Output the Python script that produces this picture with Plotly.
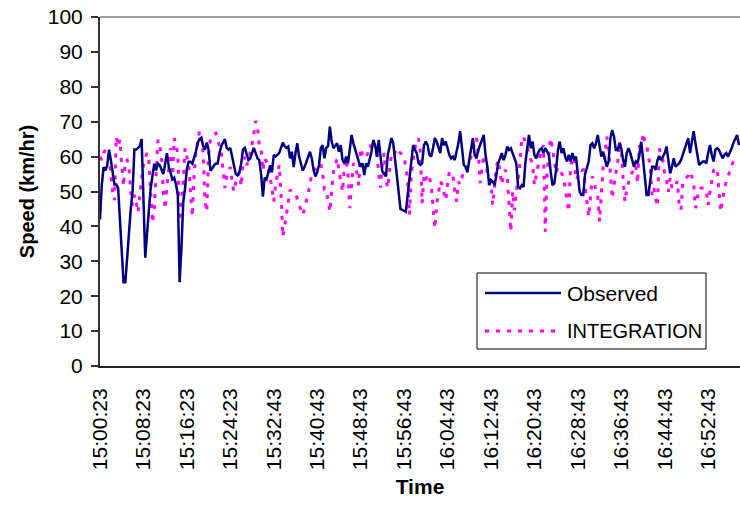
import plotly.graph_objects as go

tick_labels = ["15:00:23", "15:08:23", "15:16:23", "15:24:23", "15:32:43", "15:40:43",
               "15:48:43", "15:56:43", "16:04:43", "16:12:43", "16:20:43", "16:28:43",
               "16:36:43", "16:44:43", "16:52:43"]
tick_step = 24  # samples between labelled times (20 s sampling)

observed = [
    42, 52, 57, 56, 57.5, 62, 59, 56, 52, 52,
    51, 42, 32, 24, 24, 31, 40, 45, 50, 62,
    62, 62.5, 63, 65, 50, 31, 38, 46, 51, 54.5,
    58, 56, 58, 57.5, 56, 55, 58, 61, 57, 55.5,
    53.5, 54, 52, 49, 24, 34, 47, 51, 56.5, 58.5,
    58.5, 58, 59.5, 61.5, 64, 65, 65.4, 63, 62, 64,
    62, 56, 56.5, 57.5, 58, 58, 61, 63, 64, 65,
    62.5, 62, 62.5, 60, 57, 55, 54.6, 55.5, 58, 62,
    62.5, 60.5, 59, 59.5, 61, 62.5, 61, 59.5, 59,
    55, 48.5, 54, 53.5, 56, 57.5, 55.5, 60.5, 60, 60.5,
    61, 62.5, 64, 63, 62.5, 62.9, 59.5, 61.4, 57, 61,
    63.8, 60, 58, 56, 57, 58.5, 60, 61.4, 59.5, 56.2,
    54.3, 55.5, 57.6, 62.4, 63.3, 59.5, 62.5, 63, 68.6, 64.3,
    62.4, 63.3, 63.8, 61.4, 63.3, 59, 58.1, 60, 58.1, 62,
    66.2, 63.8, 61.9, 60, 58.5, 57.1, 58.1, 54.7, 58.1, 57.1,
    59, 61.4, 64.8, 63.3, 60, 64.8, 60, 55.7, 55, 54.3,
    60.5, 63, 65.3, 63.8, 58.1, 54.7, 49.9, 45, 44.7, 44.5,
    44.2, 49, 53.3, 59, 63.3, 62, 61, 58.1,
    57.6, 58.1, 63.3, 64.3, 63.3, 60.5, 60, 62.5, 65.3, 64.3,
    62.4, 61, 65.3, 63.3, 64.3, 62.4, 60.5, 59.5, 60, 59,
    61, 63.8, 67.3, 61.4, 57.6, 57.1, 55.5, 59, 62, 65.3,
    60.5, 59.5, 61.9, 63.3, 64.3, 66.2, 60.5, 57.1, 51.8, 53.3,
    52.8, 51.8, 54.7, 58.1, 59.5, 61, 59, 60.5, 62.9, 61.9,
    62.4, 61, 60, 58.1, 51.3, 50.9, 51.8, 51.3, 58.1, 62.9,
    66.2, 62.4, 64.3, 60.5, 59.5, 61, 62, 62.4, 61, 62.4,
    61.5, 60.5, 55.7, 51.8, 52.3, 56.2, 61.9, 64.3, 61, 62.4,
    60, 58.6, 60.5, 58.6, 61, 59, 60, 55, 49.9,
    49, 49, 55, 56.7, 58.6, 63.3, 63.8, 62.4, 63.8, 66.2,
    62.4, 60, 61.4, 59, 57.1, 58.6, 65.3, 67.6, 65.7, 61.9,
    61.9, 63.8, 62.4, 59, 57.1, 61, 62.4, 61, 59, 57.1,
    58.6, 58.1, 60.5, 64.3, 59.5, 54.7, 49, 49, 53.8, 57.1,
    57.1, 56.2, 59, 60, 59, 60, 61, 62.9, 58.6, 55.2,
    57.1, 59.5, 57.1, 57.5, 58.1, 59, 60.5, 62.4, 63.5, 65.3,
    61, 63.8, 67.3, 63.8, 60, 57.6, 58.1, 58.6, 58.6, 58.1,
    61, 63.3, 60.5, 58.6, 61.9, 62.4, 61.9, 60.5, 59.5, 60.5,
    61, 60, 61, 62.4, 64, 65.3, 66.2, 63.3,
]

integration = [
    60, 59, 61, 62, 61.6, 60, 55, 50, 47.5, 65.7,
    63, 64.8, 58, 51.5, 59, 59, 57, 50, 46, 49,
    47, 44, 49, 54.3, 57.6, 59.5, 61, 59, 50, 41,
    45, 54, 64.8, 63.3, 60, 50, 45, 52, 56, 62.4,
    53, 65.3, 63, 61, 41.5, 44.5, 53, 62.4, 60, 57.5,
    50, 42.8, 55, 61, 64.3, 67.3, 65, 61, 47, 44.2,
    61, 64.8, 66.2, 66.5, 66.7, 65, 63.3, 61, 56, 51,
    54.3, 56, 57, 52.8, 50, 52.5, 54, 55.5, 51.5, 58.1,
    60, 57.5, 59, 61, 63.3, 66.7, 70.2, 68.8, 63,
    62.4, 56, 59.5, 58.5, 57.6, 54.3, 50, 47.1, 51.8, 55,
    57.6, 50, 37.1, 40, 43.7, 47.1, 50.5, 50, 49.5, 49.4,
    48, 46.6, 44.5, 43.3, 45, 47, 49, 51.8, 55.5, 56,
    56.7, 57, 57.5, 58, 55, 50.5, 50.5, 47, 44.2, 50,
    55.5, 57.5, 59.5, 56, 53.3, 49.9, 57.1, 59.5, 55, 45.2,
    51.8, 58.1, 57, 55.2, 51.8, 62.4, 60.5, 59.5, 60, 61,
    63.3, 62.5, 62, 61.5, 61, 55, 51.1, 58, 61, 53.3,
    51, 56, 60.5, 60, 61, 62.4, 61.5, 61, 60.5, 60,
    56.7, 53.3, 43.3, 55, 59, 62.4, 64, 65.3,
    61.4, 46.6, 54.7, 53.3, 55, 54, 51.8, 45.2, 39.4, 46.1,
    49.4, 53, 52, 50, 47.5, 52, 55.7, 55.2, 54.7, 50,
    47.1, 52.8, 52, 54, 56.7, 56.7, 57.5, 58.5, 60, 62.4,
    64, 65.3, 61, 52.4, 57, 60.5, 59, 55.5, 54.7, 52.4,
    46.1, 52, 57.1, 59, 54.7, 52, 55, 56.2, 54, 45.2,
    38.5, 50, 44.7, 50, 53.3, 58, 65.3, 65.7, 64, 62.5,
    61, 59.5, 57.6, 51.8, 54.5, 58.1, 60, 61.5, 63.3, 38.5,
    55, 61, 65.3, 62.4, 58, 55.2, 57, 56, 55, 54.3,
    51, 47.1, 44.2, 57.5, 59, 60, 53.3, 54.3, 56.2,
    56, 56.2, 50.5, 47.1, 42.8, 50, 54.3, 53, 50, 48.5,
    41.4, 49.4, 57, 60.5, 65.7, 62.4, 55, 48, 52, 55,
    58.1, 64.3, 62.4, 53.8, 47.1, 50.5, 52.5, 54.5, 55.5, 56.2,
    57.5, 52.3, 63.3, 61, 66.7, 64.3, 63.3, 60.5, 57, 49,
    51, 48, 45.7, 62.4, 60, 59, 55, 53.3, 49.9, 54,
    51, 52, 51.8, 53, 46, 44.7, 52.8, 53.5, 54, 54.5,
    55.7, 54.3, 52, 45.2, 48, 51, 51, 51, 51, 50,
    46.1, 50, 53.3, 56, 56.5, 56.7, 49.9, 44.2, 48, 51,
    53, 54.3, 56, 57.6, 58.5, 59, 59.5, 59.5,
]

series_names = ["Observed", "INTEGRATION"]
obs_color = "#000080"
int_color = "#FF00FF"
int_dash = "4px,7px"
FONT = "Arial, Liberation Sans, sans-serif"

fig = go.Figure()
fig.add_trace(go.Scatter(x=list(range(len(integration))), y=integration, mode="lines",
                         name=series_names[1],
                         line=dict(color=int_color, width=3, dash=int_dash)))
fig.add_trace(go.Scatter(x=list(range(len(observed))), y=observed, mode="lines",
                         name=series_names[0],
                         line=dict(color=obs_color, width=2.5)))

W, H = 740, 506
L, R, T, B = 100, 0, 17, 140
pw, ph = W - L - R, H - T - B

def px(xp):
    return (xp - L) / pw

def py(yp):
    return (H - B - yp) / ph

shapes = [
    dict(type="line", xref="paper", yref="paper", x0=0, x1=1, y0=1, y1=1,
         line=dict(color="#808080", width=1.5)),
    dict(type="rect", xref="paper", yref="paper", x0=px(477), x1=px(706),
         y0=py(349), y1=py(273), fillcolor="white", line=dict(color="black", width=1),
         layer="above"),
    dict(type="line", xref="paper", yref="paper", x0=px(485), x1=px(561),
         y0=py(293), y1=py(293), line=dict(color=obs_color, width=2.5), layer="above"),
    dict(type="line", xref="paper", yref="paper", x0=px(485), x1=px(561),
         y0=py(331), y1=py(331), line=dict(color=int_color, width=3, dash=int_dash),
         layer="above"),
]
annotations = [
    dict(xref="paper", yref="paper", x=px(565), y=py(293), text=series_names[0],
         showarrow=False, xanchor="left", yanchor="middle",
         font=dict(family=FONT, size=21, color="black")),
    dict(xref="paper", yref="paper", x=px(565), y=py(331), text=series_names[1],
         showarrow=False, xanchor="left", yanchor="middle",
         font=dict(family=FONT, size=20, color="black")),
]

fig.update_layout(
    width=W, height=H,
    margin=dict(l=L, r=R, t=T, b=B, pad=0),
    paper_bgcolor="white", plot_bgcolor="white",
    showlegend=False,
    font=dict(family=FONT, size=21, color="black"),
    shapes=shapes, annotations=annotations,
    xaxis=dict(
        range=[0, 353.6],
        tickmode="array",
        tickvals=[i * tick_step for i in range(len(tick_labels))],
        ticktext=tick_labels,
        tickangle=-90,
        ticks="", showgrid=False, zeroline=False,
        showline=True, linecolor="#222222", linewidth=2,
        ticklabelstandoff=12,
        tickfont=dict(family=FONT, size=21, color="black"),
        title=dict(text="<b>Time</b>", standoff=10,
                   font=dict(family=FONT, size=21, color="black")),
    ),
    yaxis=dict(
        range=[0, 100], dtick=10, tick0=0,
        ticks="outside", ticklen=7, tickwidth=1.5, tickcolor="#333333",
        showgrid=False, zeroline=False,
        showline=True, linecolor="#333333", linewidth=2,
        ticklabelstandoff=4,
        tickfont=dict(family=FONT, size=21, color="black"),
        title=dict(text="<b>Speed (km/hr)</b>", standoff=8,
                   font=dict(family=FONT, size=20, color="black")),
    ),
)

fig.write_html("out.html",
               config={"displayModeBar": False},
               post_script="document.body.style.margin='0px';document.body.style.overflow='hidden';")
